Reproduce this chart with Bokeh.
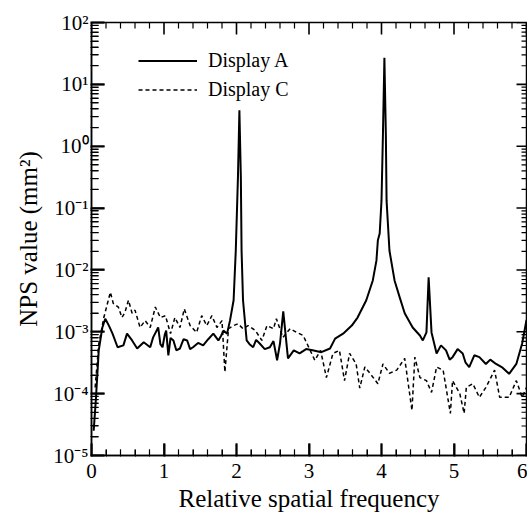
from bokeh.plotting import figure
from bokeh.models import Legend, LegendItem, FixedTicker, Range1d
from bokeh.embed import file_html
from bokeh.resources import INLINE

# ---- data (NPS given as log10 exponent) ----
freq_a = [0.03, 0.06, 0.10, 0.15, 0.19, 0.24, 0.29, 0.36, 0.44, 0.49, 0.56, 0.63, 0.72, 0.81,
          0.85, 0.92, 0.95, 0.98, 1.01, 1.03, 1.06, 1.09, 1.13, 1.17, 1.22, 1.27, 1.32, 1.36,
          1.40, 1.47, 1.54, 1.61, 1.68, 1.75, 1.79, 1.82, 1.87,
          1.91, 1.96, 1.99, 2.02, 2.04, 2.06, 2.07, 2.09, 2.14, 2.18, 2.23, 2.27, 2.32, 2.39,
          2.46, 2.51, 2.56, 2.60,
          2.645, 2.71, 2.79, 2.87, 2.96, 3.05, 3.17, 3.29, 3.36, 3.47, 3.59, 3.67, 3.79, 3.88,
          3.93, 3.95, 3.975,
          4.00, 4.02, 4.04, 4.06, 4.07, 4.11, 4.18, 4.25, 4.32, 4.43, 4.53, 4.57, 4.62, 4.65,
          4.69, 4.76, 4.82, 4.89, 4.94, 4.98, 5.05, 5.12, 5.16, 5.21, 5.28, 5.35, 5.44, 5.50,
          5.58, 5.67, 5.76, 5.86, 5.94, 6.00]
log_nps_a = [-4.6, -4.1, -3.30, -2.93, -2.79, -2.90, -3.03, -3.25, -3.22, -3.03, -3.14, -3.27, -3.17, -3.25,
             -3.09, -2.93, -3.20, -3.25, -3.05, -2.98, -3.38, -3.10, -3.14, -3.30, -3.27, -3.12, -3.14, -3.28,
             -3.25, -3.18, -3.22, -3.12, -3.03, -3.14, -3.06, -2.98, -3.03,
             -2.82, -2.49, -1.69, -0.5, 0.58, -0.5, -1.69, -2.49, -3.14, -3.20, -3.25, -3.13, -3.19, -3.28,
             -3.25, -3.15, -3.46, -3.19,
             -2.67, -3.43, -3.30, -3.35, -3.28, -3.30, -3.33, -3.27, -3.11, -3.03, -2.90, -2.77, -2.49, -2.17,
             -1.85, -1.52, -1.41,
             -0.88, 0.2, 1.43, 0.2, -0.88, -1.69, -2.17, -2.44, -2.70, -2.93, -3.06, -3.14, -3.01, -2.12,
             -3.01, -3.35, -3.22, -3.30, -3.45, -3.41, -3.28, -3.35, -3.50, -3.57, -3.38, -3.41, -3.52, -3.45,
             -3.52, -3.58, -3.68, -3.52, -3.19, -2.81]

freq_c = [0.05, 0.10, 0.17, 0.26, 0.30, 0.37, 0.42, 0.46, 0.51, 0.56, 0.60, 0.67, 0.74, 0.81,
          0.88, 0.95, 1.02, 1.09, 1.15, 1.22, 1.28, 1.36, 1.45, 1.52, 1.59, 1.66, 1.73, 1.80,
          1.84, 1.89, 1.96, 2.02, 2.09, 2.16, 2.26, 2.35, 2.42, 2.51, 2.55, 2.64, 2.74, 2.83,
          2.92, 3.08, 3.16, 3.24, 3.33, 3.42, 3.49, 3.56, 3.65, 3.70, 3.77, 3.84, 3.95, 4.02,
          4.11, 4.21, 4.32, 4.42, 4.46, 4.53, 4.62, 4.69, 4.76, 4.85, 4.95, 4.98, 5.08, 5.14,
          5.17, 5.26, 5.35, 5.44, 5.56, 5.63, 5.76, 5.86, 5.94, 6.00]
log_nps_c = [-3.9, -3.2, -2.77, -2.36, -2.54, -2.60, -2.77, -2.69, -2.49, -2.70, -2.65, -2.93, -2.82, -2.93,
             -2.60, -2.77, -2.74, -3.03, -2.77, -2.93, -2.63, -2.90, -3.01, -2.74, -2.90, -2.74, -2.93, -2.82,
             -3.65, -2.95, -2.90, -2.87, -2.95, -2.90, -2.98, -3.14, -2.90, -2.95, -2.79, -3.09, -2.95, -3.01,
             -3.06, -3.46, -3.30, -3.74, -3.35, -3.30, -3.79, -3.35, -3.52, -3.91, -3.57, -3.67, -3.84, -3.52,
             -3.67, -3.62, -3.43, -4.27, -3.41, -3.74, -3.79, -3.98, -3.57, -3.62, -4.32, -3.79, -4.00, -4.32,
             -3.90, -3.84, -4.06, -3.90, -3.62, -4.06, -4.06, -3.79, -4.06, -3.90]

series_labels = ["Display A", "Display C"]
x_title = "Relative spatial frequency"
y_title = "NPS value (mm\u00b2)"

# tick values and tick labels
x_major = [0, 1, 2, 3, 4, 5, 6]
x_minor = [round(0.2 * i, 1) for i in range(1, 30) if i % 5 != 0]
y_exponents = [-5, -4, -3, -2, -1, 0, 1, 2]
y_labels = ["10\u207b\u2075", "10\u207b\u2074", "10\u207b\u00b3", "10\u207b\u00b2", "10\u207b\u00b9",
            "10\u2070", "10\u00b9", "10\u00b2"]
y_major = [10.0 ** e for e in y_exponents]
y_minor = [m * 10.0 ** e for e in y_exponents[:-1] for m in range(2, 10)]

FONT = "Liberation Serif"
X0, X1, Y0, Y1 = 0, 6, 1e-5, 1e2
W, H = 527, 516
BL, BR, BT, BB = 91, 1, 22, 61
PX_PER_X = (W - BL - BR) / (X1 - X0)      # screen px per x unit
PX_PER_DEC = (H - BT - BB) / 7.0          # screen px per decade

nps_a = [10 ** v for v in log_nps_a]
nps_c = [10 ** v for v in log_nps_c]

p = figure(width=W, height=H, y_axis_type="log",
           x_range=Range1d(X0, X1), y_range=Range1d(Y0, Y1),
           output_backend="svg", toolbar_location=None,
           min_border_left=BL, min_border_right=BR, min_border_top=BT, min_border_bottom=BB)
p.xgrid.grid_line_alpha = 0
p.ygrid.grid_line_alpha = 0
p.outline_line_color = "black"
p.outline_line_width = 1.5

rA = p.line(freq_a, nps_a, line_color="black", line_width=2)
rC = p.line(freq_c, nps_c, line_color="black", line_width=1.5, line_dash="4 3")


# inward tick marks on the four sides, drawn as thin filled bars
def ticks_x(xs, y_edge, length_px, direction, width_px):
    hw = width_px / 2.0 / PX_PER_X
    f = 10 ** (direction * length_px / PX_PER_DEC)
    ya, yb = sorted([y_edge, y_edge * f])
    p.quad(left=[x - hw for x in xs], right=[x + hw for x in xs],
           bottom=[ya] * len(xs), top=[yb] * len(xs),
           fill_color="black", line_color=None)


def ticks_y(ys, x_edge, length_px, direction, width_px):
    d = direction * length_px / PX_PER_X
    g = 10 ** (width_px / 2.0 / PX_PER_DEC)
    xa_, xb_ = sorted([x_edge, x_edge + d])
    p.quad(left=[xa_] * len(ys), right=[xb_] * len(ys),
           bottom=[y / g for y in ys], top=[y * g for y in ys],
           fill_color="black", line_color=None)


ticks_x(x_major, Y0, 12, 1, 1.6)
ticks_x(x_minor, Y0, 6, 1, 1.2)
ticks_x(x_major, Y1, 12, -1, 1.6)
ticks_x(x_minor, Y1, 6, -1, 1.2)
ticks_y(y_major, X0, 13, 1, 1.6)
ticks_y(y_minor, X0, 7, 1, 1.2)
ticks_y(y_major, X1, 10, -1, 1.6)
ticks_y(y_minor, X1, 5, -1, 1.2)


def style(ax, major_len, minor_len):
    ax.axis_line_width = 1.5
    ax.axis_line_color = "black"
    ax.major_tick_in = major_len
    ax.major_tick_out = 1
    ax.minor_tick_in = minor_len
    ax.minor_tick_out = 1
    ax.major_tick_line_color = "black"
    ax.minor_tick_line_color = "black"
    ax.major_tick_line_width = 2
    ax.minor_tick_line_width = 1
    ax.major_label_text_font = FONT
    ax.major_label_text_font_size = "21px"
    ax.major_label_text_color = "black"
    ax.axis_label_text_font = FONT
    ax.axis_label_text_font_size = "25px"
    ax.axis_label_text_font_style = "normal"
    ax.axis_label_text_color = "black"


xa = p.xaxis[0]
xa.ticker = FixedTicker(ticks=x_major, minor_ticks=x_minor)
xa.axis_label = x_title
style(xa, 12, 6)
xa.major_label_standoff = 7
xa.axis_label_standoff = 4

ya = p.yaxis[0]
ya.ticker = FixedTicker(ticks=y_major, minor_ticks=y_minor)
ya.major_label_overrides = dict(zip(y_major, y_labels))
ya.axis_label = y_title
style(ya, 13, 7)
ya.major_label_standoff = 2
ya.axis_label_standoff = 8

legend = Legend(items=[LegendItem(label=series_labels[0], renderers=[rA]),
                       LegendItem(label=series_labels[1], renderers=[rC])],
                location=(47, 351), orientation="vertical",
                glyph_width=59, glyph_height=29, label_height=29, spacing=0, padding=0, margin=0,
                label_standoff=11, label_text_font=FONT, label_text_font_size="20px",
                label_text_color="black", background_fill_alpha=0, border_line_alpha=0)
p.add_layout(legend, "center")

open("out.html", "w").write(file_html(p, INLINE))
